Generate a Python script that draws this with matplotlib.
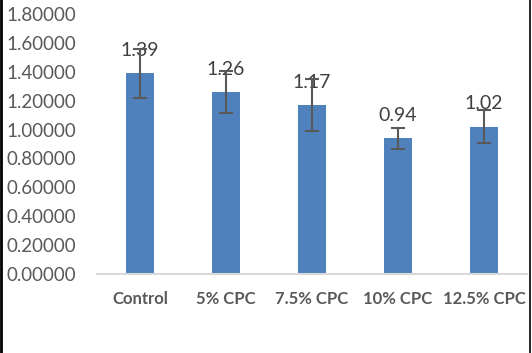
import matplotlib
matplotlib.use("Agg")
import matplotlib.pyplot as plt
from matplotlib.lines import Line2D

categories = ["Control", "5% CPC", "7.5% CPC", "10% CPC", "12.5% CPC"]
values = [1.39, 1.26, 1.17, 0.94, 1.02]
errors = [0.17, 0.145, 0.18, 0.072, 0.113]
yticks = [0.0, 0.2, 0.4, 0.6, 0.8, 1.0, 1.2, 1.4, 1.6, 1.8]

plt.rcParams['font.family'] = ['Lato', 'DejaVu Sans']
gray = '#595959'

fig = plt.figure(figsize=(5.32, 3.53), dpi=100)
ax = fig.add_axes([97/532, 1-274/353, 430/532, 260/353])
x = list(range(len(categories)))
ax.bar(x, values, width=0.314, color='#4f81bd', zorder=2)
ax.errorbar(x, values, yerr=errors, fmt='none', ecolor=gray, elinewidth=1.5,
            capsize=5, capthick=1.5, zorder=3)
for xi, v in zip(x, values):
    ax.text(xi, v + 0.1, f"{v:.2f}", ha='center', va='bottom', fontsize=14,
            color='#404040', zorder=1)
ax.set_xlim(-0.5, len(categories) - 0.5)
ax.set_ylim(0, 1.8)
ax.set_yticks(yticks)
ax.set_yticklabels([f"{t:.5f}" for t in yticks], fontsize=13.5, color=gray)
ax.set_xticks(x)
ax.set_xticklabels(categories, fontsize=12, fontweight='bold', color=gray)
ax.tick_params(axis='y', length=0, pad=15)
ax.tick_params(axis='x', length=0, pad=12)
for s in ['top', 'right', 'left']:
    ax.spines[s].set_visible(False)
ax.spines['bottom'].set_color('#d9d9d9')
ax.spines['bottom'].set_linewidth(1.5)

fig.add_artist(Line2D([1/532, 1/532], [0, 1], color='black', linewidth=2, transform=fig.transFigure))
fig.add_artist(Line2D([529.5/532, 529.5/532], [0, 1], color='black', linewidth=1.2, transform=fig.transFigure))
fig.savefig("out.png", dpi=100)
